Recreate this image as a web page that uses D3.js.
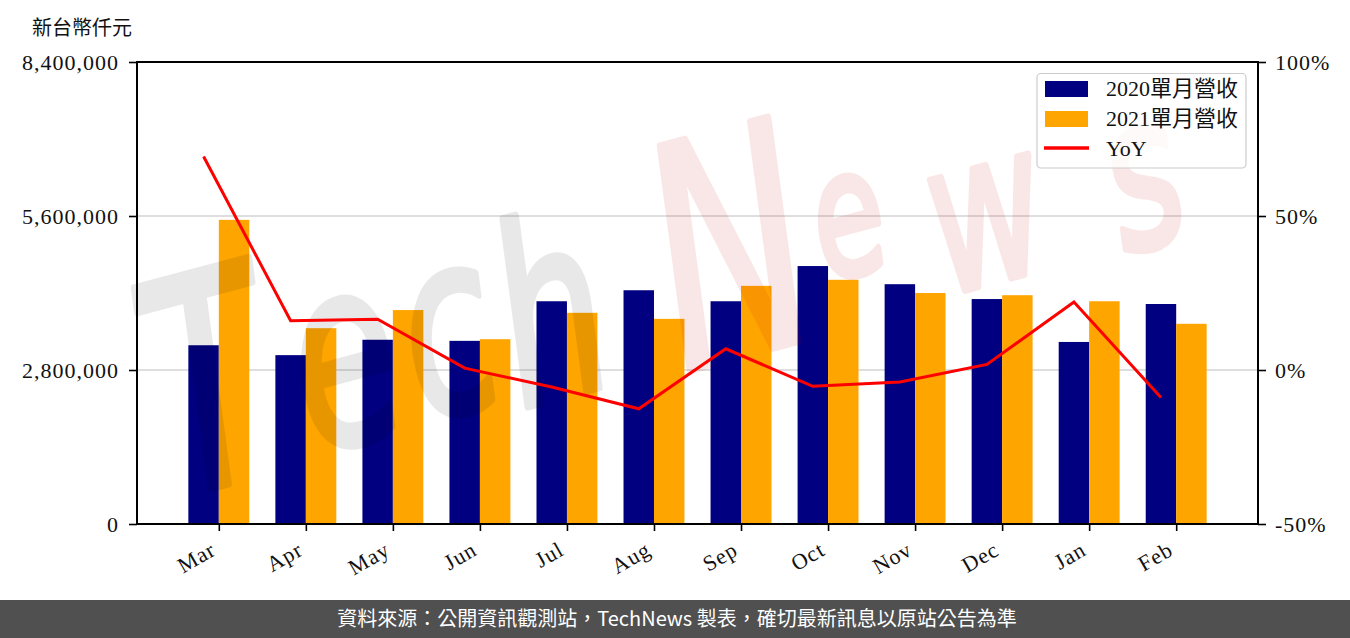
<!DOCTYPE html>
<html>
<head>
<meta charset="utf-8">
<script src="https://cdn.jsdelivr.net/npm/d3@7"></script>
<style>
  html, body { margin: 0; padding: 0; background: #fff; }
  svg { display: block; }
</style>
</head>
<body>
<svg id="chart" width="1350" height="638"></svg>
<script>
// ---- data ----
const months = ["Mar", "Apr", "May", "Jun", "Jul", "Aug", "Sep", "Oct", "Nov", "Dec", "Jan", "Feb"];
const rev2020 = [3250000, 3070000, 3350000, 3330000, 4050000, 4250000, 4050000, 4690000, 4360000, 4090000, 3310000, 4000000];
const rev2021 = [5530000, 3560000, 3890000, 3360000, 3840000, 3730000, 4330000, 4440000, 4200000, 4160000, 4050000, 3640000];
const yoy = [69.3, 16.0, 16.5, 0.6, -5.5, -12.6, 6.9, -5.3, -3.9, 1.8, 22.1, -8.9];
const leftTicks = [0, 2800000, 5600000, 8400000];
const rightTicks = [-50, 0, 50, 100];
const seriesNames = ["2020單月營收", "2021單月營收", "YoY"];
const unitLabel = "新台幣仟元";
const footerText = "資料來源：公開資訊觀測站，TechNews 製表，確切最新訊息以原站公告為準";
const watermarkLetters = ["T", "e", "c", "h", "N", "e", "w", "s"];

// ---- layout ----
const L = 137, R = 1258, T = 62, B = 524;
const serif = "'Liberation Serif', 'Noto Sans CJK TC', serif";
const svg = d3.select("#chart");
svg.append("rect").attr("width", 1350).attr("height", 638).attr("fill", "#fff");

const x = d3.scaleLinear().domain([-0.94, months.length - 1 + 0.94]).range([L, R]);
const y = d3.scaleLinear().domain([0, 8400000]).range([B, T]);
const y2 = d3.scaleLinear().domain([-50, 100]).range([B, T]);
const bw = 0.35;

// grid
svg.append("g").selectAll("line").data(leftTicks).join("line")
  .attr("x1", L).attr("x2", R)
  .attr("y1", d => y(d)).attr("y2", d => y(d))
  .attr("stroke", "#d3d3d3").attr("stroke-width", 1.5);

// bars
const gb = svg.append("g");
gb.selectAll("rect.a").data(rev2020).join("rect").attr("class", "a")
  .attr("x", (d, i) => x(i - bw)).attr("width", (d, i) => x(i) - x(i - bw))
  .attr("y", d => y(d)).attr("height", d => B - y(d)).attr("fill", "#000080");
gb.selectAll("rect.b").data(rev2021).join("rect").attr("class", "b")
  .attr("x", (d, i) => x(i)).attr("width", (d, i) => x(i + bw) - x(i))
  .attr("y", d => y(d)).attr("height", d => B - y(d)).attr("fill", "#FFA500");

// watermark: hand-drawn style "TechNews", placed letter by letter
const wmPlace = [
  [235, 482, 195], [365, 440, 170], [468, 410, 165], [572, 395, 165],
  [758, 352, 205], [862, 272, 115], [1003, 280, 140], [1160, 244, 140]
];
const wmGroups = [
  svg.append("g").attr("opacity", 0.085),
  svg.append("g").attr("opacity", 0.09)
];
watermarkLetters.forEach((ch, i) => {
  const [cx, by, fs] = wmPlace[i];
  const col = i < 4 ? "#000" : "rgb(200,0,0)";
  wmGroups[i < 4 ? 0 : 1].append("text")
    .attr("transform", `translate(${cx},${by}) rotate(-15) scale(1,1.5)`)
    .attr("text-anchor", "middle")
    .attr("font-family", "'DejaVu Sans', sans-serif").attr("font-style", "italic")
    .attr("font-size", fs)
    .attr("fill", col).attr("stroke", col).attr("stroke-width", 5).attr("stroke-linejoin", "round")
    .text(ch);
});

// line
const line = d3.line().x((d, i) => x(i - bw / 2)).y(d => y2(d));
svg.append("path").datum(yoy).attr("d", line)
  .attr("fill", "none").attr("stroke", "#ff0000").attr("stroke-width", 3);

// axes
const axL = d3.axisLeft(y).tickValues(leftTicks).tickSize(8).tickPadding(10).tickFormat(d3.format(","));
const axR = d3.axisRight(y2).tickValues(rightTicks).tickSize(8).tickPadding(9).tickFormat(d => d + "%");
const axB = d3.axisBottom(x).tickValues(d3.range(months.length)).tickSize(7).tickFormat(i => months[i]);

function styleAxis(g) {
  g.select(".domain").remove();
  g.selectAll(".tick line").attr("stroke", "#000").attr("stroke-width", 1.6);
  g.selectAll(".tick text").attr("font-family", serif).attr("font-size", 22)
    .attr("letter-spacing", 1).attr("fill", "#111");
}
svg.append("g").attr("transform", `translate(${L},0)`).call(axL).call(styleAxis);
svg.append("g").attr("transform", `translate(${R},0)`).call(axR).call(styleAxis);
const gx = svg.append("g").attr("transform", `translate(0,${B})`).call(axB).call(styleAxis);
gx.selectAll(".tick text")
  .attr("text-anchor", "end").attr("dy", null).attr("y", 0)
  .attr("transform", "translate(-2,30) rotate(-30)");

// spines
svg.append("rect").attr("x", L).attr("y", T).attr("width", R - L).attr("height", B - T)
  .attr("fill", "none").attr("stroke", "#000").attr("stroke-width", 2);

// unit label
svg.append("text").attr("x", 32).attr("y", 35).text(unitLabel)
  .attr("font-family", "'Noto Sans CJK TC', sans-serif").attr("font-size", 20).attr("fill", "#111");

// legend
const lg = svg.append("g");
lg.append("rect").attr("x", 1037).attr("y", 73.5).attr("width", 209).attr("height", 94.5).attr("rx", 4)
  .attr("fill", "#fff").attr("fill-opacity", 0.8).attr("stroke", "#cccccc").attr("stroke-width", 1.2);
const colors = ["#000080", "#FFA500", "#ff0000"];
seriesNames.forEach((n, i) => {
  const cy = 89 + i * 30;
  if (i < 2) {
    lg.append("rect").attr("x", 1045).attr("y", cy - 8).attr("width", 43).attr("height", 16).attr("fill", colors[i]);
  } else {
    lg.append("line").attr("x1", 1044).attr("x2", 1089).attr("y1", cy - 1).attr("y2", cy - 1)
      .attr("stroke", colors[i]).attr("stroke-width", 3.5);
  }
  lg.append("text").attr("x", 1106).attr("y", cy + 7).text(n)
    .attr("font-family", serif).attr("font-size", 22).attr("fill", "#111");
});

// footer
svg.append("rect").attr("x", 0).attr("y", 600).attr("width", 1350).attr("height", 38).attr("fill", "#505050");
svg.append("text").attr("x", 677).attr("y", 626).attr("text-anchor", "middle").text(footerText)
  .attr("font-family", "'Noto Sans CJK TC', sans-serif").attr("font-size", 20).attr("fill", "#fff");
</script>
</body>
</html>
